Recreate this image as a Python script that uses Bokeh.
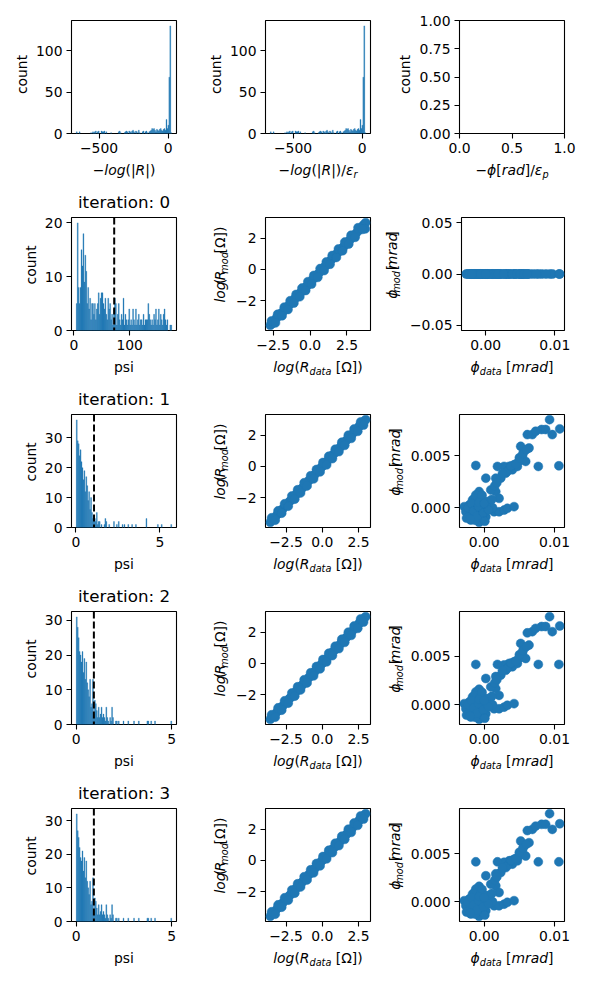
import math
from bokeh.plotting import figure
from bokeh.models import (Range1d, FixedTicker, CustomJSTickFormatter, Label, Span,
                          ColumnDataSource)
from bokeh.layouts import column, row
from bokeh.embed import file_html
from bokeh.resources import INLINE

# ---------------------------------------------------------------- data
# top row: histogram of -log(|R|) (identical for /eps_r), 100 bins
R_hist_range = (-665.0, 26.0)
R_hist_counts = [
    2, 0, 0, 2, 0, 0, 0, 0, 0, 0,
    0, 0, 0, 0, 0, 1, 0, 2, 1, 2,
    3, 0, 2, 3, 0, 0, 3, 2, 2, 3,
    0, 2, 0, 0, 0, 0, 1, 0, 0, 0,
    0, 0, 0, 0, 2, 3, 1, 0, 0, 0,
    1, 2, 3, 2, 0, 3, 2, 1, 3, 4,
    2, 0, 3, 2, 0, 4, 1, 0, 0, 2,
    3, 0, 2, 3, 1, 0, 2, 3, 4, 6,
    5, 6, 4, 2, 5, 4, 3, 5, 6, 4,
    3, 5, 6, 4, 17, 6, 10, 68, 130, 1]

# psi histograms per iteration (100 bins each)
psi_ranges = [(4.35, 175.4), (0.024, 5.70), (0.01, 5.0), (0.01, 5.0)]
psi_thresholds = [72.3, 1.08, 0.93, 0.93]
psi_counts_it0 = [
    5, 20, 8, 5, 8, 15, 12, 18, 9, 14,
    11, 5, 8, 4, 6, 2, 5, 5, 3, 5,
    2, 4, 5, 7, 3, 6, 7, 7, 5, 4,
    6, 3, 2, 6, 4, 5, 2, 3, 1, 4,
    6, 5, 1, 3, 5, 2, 1, 3, 2, 6,
    1, 3, 2, 1, 2, 4, 1, 2, 1, 4,
    2, 1, 4, 1, 2, 3, 1, 2, 2, 1,
    3, 1, 2, 2, 2, 5, 3, 2, 1, 2,
    1, 3, 2, 4, 1, 2, 4, 1, 3, 2,
    1, 3, 4, 2, 1, 2, 0, 0, 1, 1]
psi_counts_it1 = [
    36, 29, 28, 24, 26, 22, 20, 16, 19, 12,
    17, 14, 9, 12, 6, 10, 5, 3, 4, 3,
    2, 5, 1, 2, 2, 0, 1, 0, 0, 1,
    3, 2, 0, 0, 1, 0, 0, 0, 0, 2,
    0, 0, 1, 0, 2, 0, 0, 0, 1, 0,
    1, 0, 0, 0, 1, 0, 0, 0, 1, 0,
    0, 0, 1, 0, 0, 0, 0, 0, 0, 0,
    0, 0, 0, 3, 0, 0, 0, 0, 0, 0,
    0, 0, 0, 0, 0, 1, 0, 0, 0, 1,
    0, 0, 0, 0, 0, 0, 0, 0, 0, 1]
psi_counts_it2 = [
    31, 28, 25, 21, 20, 18, 21, 15, 19, 13,
    18, 12, 10, 8, 13, 5, 6, 13, 3, 7,
    6, 4, 2, 5, 2, 3, 5, 2, 3, 2,
    1, 5, 2, 1, 0, 2, 1, 5, 2, 0,
    0, 1, 1, 0, 1, 0, 0, 0, 0, 1,
    0, 0, 0, 0, 1, 0, 0, 0, 0, 0,
    1, 0, 0, 0, 0, 1, 0, 0, 0, 0,
    0, 0, 0, 0, 1, 1, 0, 0, 1, 0,
    0, 0, 1, 0, 0, 0, 0, 0, 0, 0,
    0, 0, 0, 0, 0, 0, 0, 0, 0, 1]
psi_counts_it3 = [
    32, 27, 25, 22, 19, 18, 21, 15, 19, 13,
    18, 12, 10, 8, 12, 5, 6, 13, 3, 7,
    6, 4, 2, 5, 2, 3, 5, 2, 3, 2,
    1, 5, 2, 1, 0, 2, 1, 5, 2, 0,
    0, 1, 1, 0, 1, 0, 0, 0, 0, 1,
    0, 0, 0, 0, 1, 0, 0, 0, 0, 0,
    1, 0, 0, 0, 0, 1, 0, 0, 0, 0,
    0, 0, 0, 0, 1, 1, 0, 0, 1, 0,
    0, 0, 1, 0, 0, 0, 0, 0, 0, 0,
    0, 0, 0, 0, 0, 0, 0, 0, 0, 1]

# resistance scatter, iteration 0
logR_data_it0 = [-2.70, -2.55, -2.42, -2.28, -2.10, -1.97, -1.85, -1.70, -1.58, -1.43,
                 -1.30, -1.16, -1.02, -0.90, -0.76, -0.62, -0.50, -0.35, -0.22, -0.08,
                 0.05, 0.18, 0.33, 0.46, 0.60, 0.74, 0.88, 1.01, 1.15, 1.30,
                 1.43, 1.58, 1.71, 1.85, 1.99, 2.13, 2.27, 2.42, 2.56, 2.70,
                 2.85, 3.00, 3.16, 3.32, 3.48, 3.62, 3.77, 3.74,
                 -2.62, -2.35, -2.20, -1.90, -1.75, -1.50, -1.35, -1.10, -0.95, -0.70,
                 -0.55, -0.30, -0.15, 0.10, 0.25, 0.52, 0.68, 0.95, 1.10, 1.35,
                 1.50, 1.78, 1.92, 2.20, 2.35, 2.62, 2.78, 3.05, 3.25, 3.55]
logR_mod_it0 = [-3.59, -3.47, -3.30, -3.12, -2.98, -2.82, -2.73, -2.55, -2.45, -2.28,
                -2.17, -2.02, -1.86, -1.77, -1.61, -1.46, -1.37, -1.18, -1.07, -0.92,
                -0.80, -0.64, -0.52, -0.36, -0.24, -0.08, 0.05, 0.20, 0.31, 0.49,
                0.62, 0.75, 0.92, 1.04, 1.19, 1.33, 1.45, 1.62, 1.76, 1.90,
                2.04, 2.21, 2.36, 2.52, 2.70, 2.86, 3.00, 2.60,
                -3.31, -3.43, -2.88, -2.97, -2.42, -2.57, -2.01, -2.16, -1.61, -1.75,
                -1.20, -1.35, -0.79, -0.94, -0.39, -0.51, 0.05, -0.07, 0.48, 0.33,
                0.89, 0.77, 1.31, 1.20, 1.75, 1.63, 2.19, 2.06, 2.67, 2.57]
# resistance scatter, iterations 1-3
logR_data_it = [-3.59, -3.47, -3.30, -3.12, -2.98, -2.82, -2.73, -2.55, -2.45, -2.28,
                -2.17, -2.02, -1.86, -1.77, -1.61, -1.46, -1.37, -1.18, -1.07, -0.92,
                -0.80, -0.64, -0.52, -0.36, -0.24, -0.08, 0.05, 0.20, 0.31, 0.49,
                0.62, 0.75, 0.92, 1.04, 1.19, 1.33, 1.45, 1.62, 1.76, 1.90,
                2.04, 2.21, 2.36, 2.52, 2.70, 2.86, 3.00, 2.60,
                -3.50, -3.25, -3.05, -2.80, -2.60, -2.35, -2.10, -1.90, -1.70, -1.50,
                -1.25, -1.05, -0.80, -0.60, -0.40, -0.15, 0.05, 0.30, 0.45, 0.70,
                0.90, 1.15, 1.35, 1.55, 1.80, 2.00, 2.20, 2.45, 2.65, 2.85]
logR_mod_it = [-3.59, -3.44, -3.32, -3.10, -2.99, -2.80, -2.74, -2.53, -2.46, -2.27,
               -2.18, -2.00, -1.87, -1.75, -1.62, -1.45, -1.38, -1.17, -1.08, -0.90,
               -0.81, -0.63, -0.53, -0.35, -0.25, -0.07, 0.04, 0.21, 0.30, 0.50,
               0.61, 0.76, 0.91, 1.05, 1.18, 1.34, 1.44, 1.63, 1.75, 1.91,
               2.03, 2.22, 2.35, 2.53, 2.69, 2.87, 3.00, 2.64,
               -3.30, -3.45, -2.85, -3.00, -2.40, -2.55, -1.90, -2.10, -1.50, -1.70,
               -1.05, -1.25, -0.60, -0.80, -0.20, -0.35, 0.25, 0.10, 0.65, 0.50,
               1.10, 0.95, 1.55, 1.35, 2.00, 1.80, 2.40, 2.25, 2.85, 2.65]

# phase scatter
phi_data = [0.00929, 0.00816, 0.00967, 0.01073, 0.00684, 0.00613, 0.00637, 0.00566, 0.00542, 0.00495,
            0.00425, 0.00354, 0.00283, 0.00189, -0.00118, 0.00769, 0.01061, 0.00307, 0.00236, 0.00165,
            0.00024, 0.00165, 0.00094, -0.00071, -0.00118, -0.00165, -0.00212, -0.00282, -0.00259, -0.00212,
            -0.00189, -0.00071, -0.00024, -0.00047, 0.00024, 0.00071, 0.00142, 0.00212, 0.00283, 0.00330,
            0.00425, 0.00094, -0.00118, -0.00094, -0.00165, 0.00024, 0.00212, 0.00401, 0.00472, 0.00519,
            0.00590, 0.00519, 0.00731, 0.00873, 0.00330, -0.00140, -0.00047, 0.00000, -0.00200, 0.00120,
            -0.00250, -0.00230, -0.00180, -0.00150, -0.00130, -0.00100, -0.00080, -0.00060, -0.00030, -0.00010,
            0.00010, 0.00040, 0.00060, 0.00110, 0.00150, 0.00180, 0.00260, 0.00380, 0.00450, 0.00500,
            0.00550, 0.00600, -0.00070, -0.00200, 0.00000]
phi_mod_it0 = [0.0] * len(phi_data)
phi_mod_it1 = [0.00847, 0.00752, 0.00703, 0.00758, 0.00703, 0.00703, 0.00574, 0.00542, 0.00494, 0.00445,
               0.00413, 0.00397, 0.00397, 0.00397, 0.00406, 0.00397, 0.00403, 0.00332, 0.00284, 0.00284,
               0.00284, 0.00155, 0.00171, 0.00155, 0.00123, 0.00074, 0.00026, 0.00010, -0.00039, -0.00087,
               -0.00119, -0.00141, -0.00103, -0.00023, 0.00026, 0.00042, -0.00039, -0.00039, -0.00023, -0.00006,
               0.00010, -0.00006, -0.00006, 0.00042, -0.00087, -0.00087, 0.00090, 0.00365, 0.00397, 0.00461,
               0.00445, 0.00590, 0.00735, 0.00752, 0.00350, 0.00090, 0.00090, -0.00060, -0.00040, 0.00000,
               -0.00100, 0.00000, 0.00040, -0.00030, -0.00120, -0.00080, 0.00010, 0.00060, 0.00120, -0.00050,
               -0.00130, 0.00060, -0.00020, 0.00080, 0.00210, 0.00240, 0.00330, 0.00400, 0.00420, 0.00480,
               0.00520, 0.00560, 0.00050, -0.00110, 0.00040]
phi_mod_it2 = [0.00907, 0.00805, 0.00752, 0.00811, 0.00752, 0.00740, 0.00614, 0.00580, 0.00529, 0.00476,
               0.00442, 0.00425, 0.00410, 0.00415, 0.00415, 0.00415, 0.00415, 0.00355, 0.00304, 0.00290,
               0.00270, 0.00166, 0.00183, 0.00160, 0.00132, 0.00079, 0.00028, 0.00011, -0.00042, -0.00093,
               -0.00127, -0.00151, -0.00110, -0.00025, 0.00028, 0.00045, -0.00042, -0.00042, -0.00025, -0.00006,
               0.00011, -0.00006, -0.00006, 0.00045, -0.00093, -0.00093, 0.00096, 0.00391, 0.00425, 0.00493,
               0.00476, 0.00631, 0.00786, 0.00805, 0.00375, 0.00096, 0.00096, -0.00064, -0.00043, 0.00000,
               -0.00107, 0.00000, 0.00043, -0.00032, -0.00128, -0.00086, 0.00011, 0.00064, 0.00128, -0.00054,
               -0.00139, 0.00064, -0.00021, 0.00086, 0.00225, 0.00257, 0.00353, 0.00428, 0.00449, 0.00514,
               0.00556, 0.00599, 0.00054, -0.00118, 0.00043]
phi_mod_it3 = [0.00916, 0.00805, 0.00752, 0.00811, 0.00752, 0.00740, 0.00614, 0.00580, 0.00529, 0.00476,
               0.00442, 0.00425, 0.00410, 0.00415, 0.00415, 0.00415, 0.00415, 0.00355, 0.00304, 0.00290,
               0.00270, 0.00166, 0.00183, 0.00160, 0.00132, 0.00079, 0.00028, 0.00011, -0.00042, -0.00093,
               -0.00127, -0.00152, -0.00110, -0.00025, 0.00028, 0.00045, -0.00042, -0.00042, -0.00025, -0.00006,
               0.00011, -0.00006, -0.00006, 0.00045, -0.00093, -0.00093, 0.00096, 0.00391, 0.00425, 0.00493,
               0.00476, 0.00631, 0.00786, 0.00805, 0.00375, 0.00096, 0.00096, -0.00064, -0.00043, 0.00000,
               -0.00107, 0.00000, 0.00043, -0.00032, -0.00128, -0.00086, 0.00011, 0.00064, 0.00128, -0.00054,
               -0.00139, 0.00064, -0.00021, 0.00086, 0.00225, 0.00257, 0.00353, 0.00428, 0.00449, 0.00514,
               0.00556, 0.00599, 0.00054, -0.00118, 0.00043]

iterations = [0, 1, 2, 3]
psi_counts = [psi_counts_it0, psi_counts_it1, psi_counts_it2, psi_counts_it3]
logR_x = [logR_data_it0, logR_data_it, logR_data_it, logR_data_it]
logR_y = [logR_mod_it0, logR_mod_it, logR_mod_it, logR_mod_it]
phi_y = [phi_mod_it0, phi_mod_it1, phi_mod_it2, phi_mod_it3]

# ticks
R_xticks, R_yticks = [-500, 0], [0, 50, 100]
empty_xticks, empty_yticks = [0, 0.5, 1.0], [0, 0.25, 0.5, 0.75, 1.0]
psi_xticks = [[0, 100], [0, 5], [0, 5], [0, 5]]
psi_yticks = [[0, 10, 20], [0, 10, 20, 30], [0, 10, 20, 30], [0, 10, 20, 30]]
logR_xticks, logR_yticks = [-2.5, 0.0, 2.5], [-2, 0, 2]
phi_xticks = [0, 0.01]
phi_yticks = [[-0.05, 0.0, 0.05], [0, 0.005], [0, 0.005], [0, 0.005]]
phi_ydec = [2, 3, 3, 3]

# ---------------------------------------------------------------- layout / style
BLUE = "#1f77b4"
FONT = "DejaVu Sans"
FS, SUB_FS, TITLE_FS = 13.9, 9.7, 16.7
FW, FH = 105, 113                      # frame size
FX = [71, 265, 459]                    # frame left edges (page px)
FT = [20, 217, 414, 611, 808]          # frame top edges (page px)
R_B = [19, 12, 19]                     # right borders per column
L_B = [[40, 40, 44]] + [[32, 34, 53]] * 4   # left borders (tick labels only)
T_B = [20, 4, 4, 4, 4]
B_B = 27
TOTAL_W = FX[2] + FW + R_B[2]
LAST_STRIP = 25
YOFF = [[-45, -45, -50], [-36, -41, -63], [-36, -41, -60], [-36, -41, -60], [-36, -41, -60]]
XOFF = 41      # x-label baseline below frame bottom
TITLE_OFF = 9.5  # title baseline above frame top
SUB_SHIFT = 3.5
MID = 0.34     # distance baseline -> middle of the text box, in em
TB = 1         # border of the text strips

CW = {' ': .318, '(': .390, ')': .390, '/': .337, '[': .390, ']': .390, '|': .337,
      'R': .695, 'a': .613, 'c': .550, 'd': .635, 'g': .635, 'i': .278, 'l': .278,
      'm': .974, 'n': .634, 'o': .612, 'p': .635, 'r': .411, 's': .521, 't': .392,
      'u': .634, 'e': .615, '−': .838, 'Ω': .770, 'ε': .541, 'ϕ': .660, ':': .337}


def tw(s, size):
    return sum(CW.get(ch, 0.62) for ch in s) * size


def fmt(dec):
    return CustomJSTickFormatter(code="return tick.toFixed(%d).replace('-', '\u2212');" % dec)


def pad(lo, hi, frac=0.05):
    if hi == lo:
        lo, hi = lo - 0.05, hi + 0.05
    d = (hi - lo) * frac
    return lo - d, hi + d


def make_fig(ri, ci, xr, yr, xt, xd, yt, yd):
    lb, rb, tb = L_B[ri][ci], R_B[ci], T_B[ri]
    p = figure(width=lb + FW + rb, height=tb + FH + B_B, x_range=Range1d(*xr), y_range=Range1d(*yr),
               output_backend="svg", toolbar_location=None, tools="",
               min_border_left=lb, min_border_right=rb,
               min_border_top=tb, min_border_bottom=B_B)
    p.title.visible = False
    p.background_fill_color = "white"
    p.border_fill_color = "white"
    p.outline_line_color = "black"
    p.outline_line_width = 1.1
    p.outline_line_alpha = 1
    p.xgrid.visible = False
    p.ygrid.visible = False
    for ax, ticks, dec in ((p.xaxis[0], xt, xd), (p.yaxis[0], yt, yd)):
        ax.ticker = FixedTicker(ticks=ticks, minor_ticks=[])
        ax.formatter = fmt(dec)
        ax.axis_line_color = None
        ax.major_tick_out = 5
        ax.major_tick_in = 0
        ax.major_tick_line_color = "black"
        ax.major_tick_line_width = 1.1
        ax.minor_tick_line_color = None
        ax.major_label_text_font = FONT
        ax.major_label_text_font_size = "%.1fpx" % FS
        ax.major_label_text_color = "black"
        ax.major_label_standoff = 4
    return p


def text_fig(w, h):
    # frame covers [TB, w-TB] x [TB, h-TB]; data coordinates == canvas pixels (y up)
    p = figure(width=w, height=h, x_range=Range1d(TB, w - TB), y_range=Range1d(TB, h - TB),
               output_backend="svg", toolbar_location=None, tools="",
               min_border=TB, min_border_left=TB, min_border_right=TB,
               min_border_top=TB, min_border_bottom=TB,
               x_axis_location=None, y_axis_location=None)
    p.title.visible = False
    p.outline_line_color = None
    p.background_fill_color = "white"
    p.border_fill_color = "white"
    p.xgrid.visible = False
    p.ygrid.visible = False
    return p


def put(p, left, top, h, px, py, text, size, italic, angle=0.0):
    """centre a text on page pixel (px, py) on the text-figure p whose top-left is (left, top)"""
    p.add_layout(Label(x=px - left, y=h - (py - top), text=text, angle=angle,
                       text_align="center", text_baseline="middle",
                       text_font=FONT, text_font_size="%.1fpx" % size,
                       text_font_style="italic" if italic else "normal",
                       text_color="black"))


def pieces_h(p, left, top, h, pieces, cx, by):
    sizes = [SUB_FS if sub else FS for _, _, sub in pieces]
    widths = [tw(t, s) for (t, _, _), s in zip(pieces, sizes)]
    x = cx - sum(widths) / 2
    for (t, it, sub), s, w in zip(pieces, sizes, widths):
        txt = t.lstrip(' ')
        lead = tw(' ' * (len(t) - len(txt)), s)
        base = by + (SUB_SHIFT if sub else 0)
        put(p, left, top, h, x + lead + tw(txt, s) / 2, base - MID * s, txt, s, it)
        x += w


def pieces_v(p, left, top, h, pieces, bx, cy):
    sizes = [SUB_FS if sub else FS for _, _, sub in pieces]
    widths = [tw(t, s) for (t, _, _), s in zip(pieces, sizes)]
    y = cy + sum(widths) / 2
    for (t, it, sub), s, w in zip(pieces, sizes, widths):
        txt = t.lstrip(' ')
        lead = tw(' ' * (len(t) - len(txt)), s)
        base = bx + (SUB_SHIFT if sub else 0)
        put(p, left, top, h, base - MID * s, y - lead - tw(txt, s) / 2, txt, s, it,
            angle=math.pi / 2)
        y -= w


def hist(p, counts, rng):
    n = len(counts)
    lo, hi = rng
    edges = [lo + (hi - lo) * k / n for k in range(n + 1)]
    keep = [i for i in range(n) if counts[i] > 0]
    src = ColumnDataSource(dict(left=[edges[i] for i in keep], right=[edges[i + 1] for i in keep],
                                top=[counts[i] for i in keep]))
    p.quad(left="left", right="right", top="top", bottom=0, source=src,
           fill_color=BLUE, line_color=BLUE, line_width=0.3)


def hist_ranges(counts, rng):
    return pad(*rng), (0, max(counts) * 1.05)


def scat(p, x, y):
    p.scatter(x, y, size=9, marker="circle", fill_color=BLUE, line_color=BLUE, line_width=0.5)


LBL_R1 = [("−", 0, 0), ("log", 1, 0), ("(|", 0, 0), ("R", 1, 0), ("|)", 0, 0)]
LBL_R2 = LBL_R1 + [("/", 0, 0), ("ε", 1, 0), ("r", 1, 1)]
LBL_PHI = [("−", 0, 0), ("ϕ", 1, 0), ("[", 0, 0), ("rad", 1, 0), ("]", 0, 0),
           ("/", 0, 0), ("ε", 1, 0), ("p", 1, 1)]
LBL_COUNT = [("count", 0, 0)]
LBL_PSI = [("psi", 0, 0)]
LBL_RDATA = [("log", 1, 0), ("(", 0, 0), ("R", 1, 0), ("data", 1, 1), (" [Ω])", 0, 0)]
LBL_RMOD = [("log", 1, 0), ("(", 0, 0), ("R", 1, 0), ("mod", 1, 1), (" [Ω])", 0, 0)]
LBL_PDATA = [("ϕ", 1, 0), ("data", 1, 1), (" [", 0, 0), ("mrad", 1, 0), ("]", 0, 0)]
LBL_PMOD = [("ϕ", 1, 0), ("mod", 1, 1), (" [", 0, 0), ("mrad", 1, 0), ("]", 0, 0)]

# ---------------------------------------------------------------- plots
plots = [[None] * 3 for _ in range(5)]
xlabels = [[LBL_R1, LBL_R2, LBL_PHI]] + [[LBL_PSI, LBL_RDATA, LBL_PDATA]] * 4
ylabels = [[LBL_COUNT, LBL_COUNT, LBL_COUNT]] + [[LBL_COUNT, LBL_RMOD, LBL_PMOD]] * 4

xr, yr = hist_ranges(R_hist_counts, R_hist_range)
p1 = make_fig(0, 0, xr, yr, R_xticks, 0, R_yticks, 0)
hist(p1, R_hist_counts, R_hist_range)
p2 = make_fig(0, 1, xr, yr, R_xticks, 0, R_yticks, 0)
hist(p2, R_hist_counts, R_hist_range)
p3 = make_fig(0, 2, (0, 1), (0, 1), empty_xticks, 1, empty_yticks, 2)
plots[0] = [p1, p2, p3]

for k, it in enumerate(iterations):
    ri = k + 1
    xr, yr = hist_ranges(psi_counts[k], psi_ranges[k])
    a = make_fig(ri, 0, xr, yr, psi_xticks[k], 0, psi_yticks[k], 0)
    hist(a, psi_counts[k], psi_ranges[k])
    a.add_layout(Span(location=psi_thresholds[k], dimension="height", line_color="black",
                      line_width=2, line_dash="7 3"))

    b = make_fig(ri, 1, pad(min(logR_x[k]), max(logR_x[k])), pad(min(logR_y[k]), max(logR_y[k])),
                 logR_xticks, 1, logR_yticks, 0)
    scat(b, logR_x[k], logR_y[k])

    c = make_fig(ri, 2, pad(min(phi_data), max(phi_data)), pad(min(phi_y[k]), max(phi_y[k])),
                 phi_xticks, 2, phi_yticks[k], phi_ydec[k])
    scat(c, phi_data, phi_y[k])
    plots[ri] = [a, b, c]

# ---------------------------------------------------------------- assemble with text strips
blocks = []
for r in range(5):
    row_top = FT[r] - T_B[r]
    row_h = T_B[r] + FH + B_B
    items = []
    cursor = 0
    for c in range(3):
        sw = FX[c] - L_B[r][c] - cursor
        ys = text_fig(sw, row_h)
        pieces_v(ys, cursor, row_top, row_h, ylabels[r][c], FX[c] + YOFF[r][c], FT[r] + FH / 2)
        items += [ys, plots[r][c]]
        cursor = FX[c] + FW + R_B[c]
    blocks.append(row(*items))

    s_top = FT[r] + FH + B_B
    s_h = (FT[r + 1] - T_B[r + 1] - s_top) if r < 4 else LAST_STRIP
    strip = text_fig(TOTAL_W, s_h)
    for c in range(3):
        pieces_h(strip, 0, s_top, s_h, xlabels[r][c], FX[c] + FW / 2, FT[r] + FH + XOFF)
    if r < 4:
        put(strip, 0, s_top, s_h, FX[0] + FW / 2, FT[r + 1] - TITLE_OFF - MID * TITLE_FS,
            "iteration: %d" % iterations[r], TITLE_FS, False)
    blocks.append(strip)

layout = column(*blocks)
open("out.html", "w").write(file_html(layout, INLINE))
